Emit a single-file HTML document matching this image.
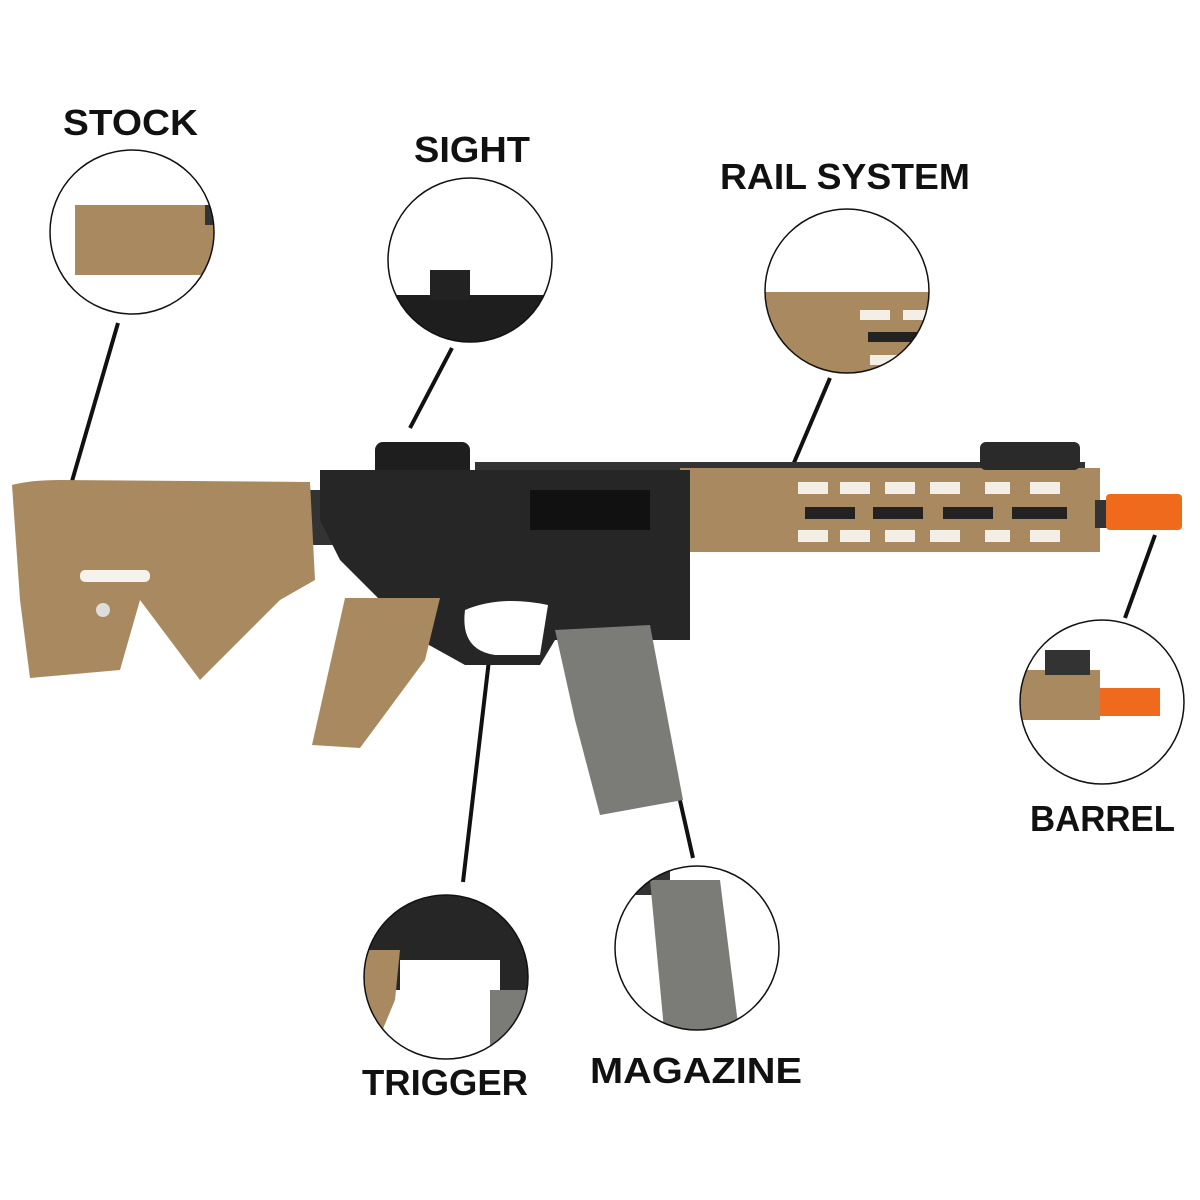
<!DOCTYPE html>
<html><head><style>
html,body{margin:0;padding:0;background:#fff;width:1200px;height:1200px;overflow:hidden}
svg{display:block}
text{font-family:"Liberation Sans",sans-serif;font-weight:bold;fill:#111;font-size:36px}
</style></head><body>
<svg width="1200" height="1200" viewBox="0 0 1200 1200">
<defs>
<clipPath id="c1"><circle cx="132" cy="232" r="82"/></clipPath>
<clipPath id="c2"><circle cx="470" cy="260" r="82"/></clipPath>
<clipPath id="c3"><circle cx="847" cy="291" r="82"/></clipPath>
<clipPath id="c4"><circle cx="1102" cy="702" r="82"/></clipPath>
<clipPath id="c5"><circle cx="446" cy="977" r="82"/></clipPath>
<clipPath id="c6"><circle cx="697" cy="948" r="82"/></clipPath>
</defs>
<text x="63" y="135" textLength="135" lengthAdjust="spacingAndGlyphs">STOCK</text>
<text x="414" y="162" textLength="116" lengthAdjust="spacingAndGlyphs">SIGHT</text>
<text x="720" y="189" textLength="250" lengthAdjust="spacingAndGlyphs">RAIL SYSTEM</text>
<text x="1030" y="831" textLength="145" lengthAdjust="spacingAndGlyphs">BARREL</text>
<text x="362" y="1095" textLength="166" lengthAdjust="spacingAndGlyphs">TRIGGER</text>
<text x="590" y="1083" textLength="212" lengthAdjust="spacingAndGlyphs">MAGAZINE</text>
<g stroke="#111" stroke-width="4">
<line x1="118" y1="323" x2="70" y2="488"/>
<line x1="452" y1="348" x2="410" y2="428"/>
<line x1="830" y1="378" x2="793" y2="465"/>
<line x1="1155" y1="535" x2="1125" y2="618"/>
<line x1="489" y1="660" x2="463" y2="882"/>
<line x1="632" y1="588" x2="693" y2="858"/>
</g>
<rect x="475" y="462" width="610" height="8" fill="#333"/>
<rect x="680" y="468" width="420" height="84" fill="#a98a60"/>
<g fill="#f3eee6">
<rect x="798" y="482" width="30" height="12"/><rect x="840" y="482" width="30" height="12"/><rect x="885" y="482" width="30" height="12"/><rect x="930" y="482" width="30" height="12"/><rect x="985" y="482" width="25" height="12"/><rect x="1030" y="482" width="30" height="12"/>
<rect x="798" y="530" width="30" height="12"/><rect x="840" y="530" width="30" height="12"/><rect x="885" y="530" width="30" height="12"/><rect x="930" y="530" width="30" height="12"/><rect x="985" y="530" width="25" height="12"/><rect x="1030" y="530" width="30" height="12"/>
</g>
<g fill="#222"><rect x="805" y="507" width="50" height="12"/><rect x="873" y="507" width="50" height="12"/><rect x="943" y="507" width="50" height="12"/><rect x="1012" y="507" width="55" height="12"/></g>
<rect x="1095" y="500" width="15" height="28" fill="#333"/>
<rect x="1106" y="494" width="76" height="36" rx="4" fill="#f06a1e"/>
<rect x="980" y="442" width="100" height="28" rx="6" fill="#2a2a2a"/>
<rect x="375" y="442" width="95" height="40" rx="8" fill="#1e1e1e"/>
<rect x="305" y="490" width="30" height="55" fill="#333"/>
<path d="M320 470 L690 470 L690 640 L555 640 L540 665 L465 665 L420 640 L380 600 L340 560 L320 520 Z" fill="#262626"/>
<rect x="530" y="490" width="120" height="40" fill="#111"/>
<path d="M465 610 Q460 650 495 655 L540 655 L548 605 Q500 595 465 610Z" fill="#fff"/>
<path d="M345 598 L440 598 L425 660 L360 748 L312 745 Z" fill="#a98a60"/>
<path d="M555 630 L650 625 L683 800 L600 815 L575 720 Z" fill="#7b7b78"/>
<path d="M12 485 Q30 480 60 480 L310 482 L315 580 L280 600 L200 680 L140 600 L120 670 L30 678 L20 600 Z" fill="#a98a60"/>
<rect x="80" y="570" width="70" height="12" rx="5" fill="#f5f2ec"/>
<circle cx="103" cy="610" r="7" fill="#ddd"/>
<g clip-path="url(#c1)"><rect x="75" y="205" width="140" height="70" fill="#a98a60"/><rect x="205" y="205" width="12" height="20" fill="#333"/></g>
<g clip-path="url(#c2)"><rect x="380" y="295" width="180" height="60" fill="#1e1e1e"/><rect x="430" y="270" width="40" height="30" fill="#222"/></g>
<g clip-path="url(#c3)"><rect x="760" y="292" width="180" height="90" fill="#a98a60"/><rect x="860" y="310" width="30" height="10" fill="#f3eee6"/><rect x="903" y="310" width="30" height="10" fill="#f3eee6"/><rect x="868" y="332" width="60" height="10" fill="#222"/><rect x="870" y="355" width="60" height="10" fill="#f3eee6"/></g>
<g clip-path="url(#c4)"><rect x="1015" y="670" width="85" height="50" fill="#a98a60"/><rect x="1045" y="650" width="45" height="25" fill="#333"/><rect x="1100" y="688" width="60" height="28" fill="#f06a1e"/></g>
<g clip-path="url(#c5)"><rect x="360" y="890" width="180" height="100" fill="#262626"/><rect x="400" y="960" width="100" height="40" fill="#fff"/><path d="M360 950 L400 950 L395 1000 L370 1060 L360 1060Z" fill="#a98a60"/><rect x="490" y="990" width="40" height="80" fill="#7b7b78"/></g>
<g clip-path="url(#c6)"><rect x="610" y="870" width="60" height="25" fill="#333"/><path d="M650 880 L720 880 L740 1040 L665 1040 Z" fill="#7b7b78"/></g>
<g fill="none" stroke="#111" stroke-width="1.5">
<circle cx="132" cy="232" r="82"/><circle cx="470" cy="260" r="82"/><circle cx="847" cy="291" r="82"/>
<circle cx="1102" cy="702" r="82"/><circle cx="446" cy="977" r="82"/><circle cx="697" cy="948" r="82"/>
</g>
</svg>
</body></html>
